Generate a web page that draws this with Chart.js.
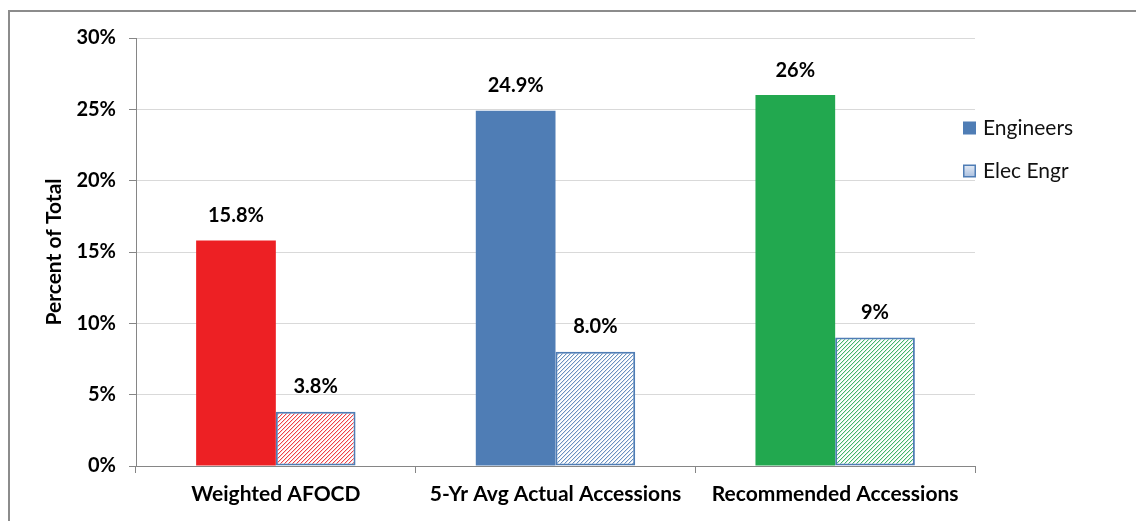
<!DOCTYPE html>
<html>
<head>
  <meta charset="UTF-8">
  <title>Percent of Total - Engineers vs Elec Engr</title>
  <script src="https://cdn.jsdelivr.net/npm/chart.js"></script>
  <style>
    html, body { margin: 0; padding: 0; background: #fff; }
    #wrap { position: relative; width: 1136px; height: 521px; overflow: hidden; }
    #frame {
      position: absolute; left: 8px; top: 10px; right: -4px; bottom: -4px;
      border-left: 2px solid #8c8c8c; border-top: 2px solid #8c8c8c;
    }
    #chart { position: absolute; left: 0; top: 0; }
  </style>
</head>
<body>
<div id="wrap">
  <div id="frame"></div>
  <canvas id="chart" width="1136" height="521"></canvas>
</div>
<script>
var categories = ['Weighted AFOCD', '5-Yr Avg Actual Accessions', 'Recommended Accessions'];
var engineers = [15.8, 24.9, 26];
var elecEngr = [3.8, 8.0, 9];
var decimals = [1, 1, 0];          // how each category's values are printed
var yTicks = [0, 5, 10, 15, 20, 25, 30];

var barColors = ['#ed2024', '#4f7db5', '#22a84f'];
var edgeBlue = '#4f7db5';
var fontName = 'Lato, "Open Sans", sans-serif';

// 4x4 tile: one upward diagonal in the colour, a faint one beside it
function hatch(color) {
  var c = document.createElement('canvas');
  c.width = 4; c.height = 4;
  var g = c.getContext('2d');
  g.fillStyle = '#fff';
  g.fillRect(0, 0, 4, 4);
  g.fillStyle = color;
  for (var x = 0; x < 4; x++) {
    for (var y = 0; y < 4; y++) {
      var k = (x + y) % 4;
      if (k === 3) {
        g.globalAlpha = 0.85;
        g.fillRect(x, y, 1, 1);
      } else if (k === 0) {
        g.globalAlpha = 0.2;
        g.fillRect(x, y, 1, 1);
      }
    }
  }
  return g.createPattern(c, 'repeat');
}

var valueLabels = {
  id: 'valueLabels',
  afterDatasetsDraw: function (chart) {
    var ctx = chart.ctx;
    ctx.save();
    ctx.font = 'bold 20px ' + fontName;
    ctx.fillStyle = '#000';
    ctx.textAlign = 'center';
    ctx.textBaseline = 'middle';
    chart.data.datasets.forEach(function (ds, di) {
      chart.getDatasetMeta(di).data.forEach(function (bar, i) {
        var txt = ds.data[i].toFixed(decimals[i]) + '%';
        ctx.fillText(txt, bar.x, bar.y - 25);
      });
    });
    ctx.restore();
  }
};

var sideLegend = {
  id: 'sideLegend',
  afterDraw: function (chart) {
    var ctx = chart.ctx;
    var x = chart.chartArea.right - 12;
    var rows = [128, 171];
    ctx.save();
    ctx.font = '21px ' + fontName;
    ctx.textBaseline = 'middle';
    ctx.textAlign = 'left';
    // Engineers: solid square
    ctx.fillStyle = edgeBlue;
    ctx.fillRect(x, rows[0] - 6.5, 13, 13);
    // Elec Engr: light gradient square with blue edge
    var gr = ctx.createLinearGradient(0, rows[1] - 6, 0, rows[1] + 6);
    gr.addColorStop(0, '#e4ebf5');
    gr.addColorStop(1, '#a9bfdf');
    ctx.fillStyle = gr;
    ctx.fillRect(x + 1, rows[1] - 5.5, 11, 11);
    ctx.strokeStyle = edgeBlue;
    ctx.lineWidth = 1.5;
    ctx.strokeRect(x + 0.75, rows[1] - 5.75, 11.5, 11.5);
    ctx.fillStyle = '#111';
    chart.data.datasets.forEach(function (ds, i) {
      ctx.fillText(ds.label, x + 20, rows[i]);
    });
    ctx.restore();
  }
};

new Chart(document.getElementById('chart'), {
  type: 'bar',
  data: {
    labels: categories,
    datasets: [{
      label: 'Engineers',
      data: engineers,
      backgroundColor: barColors,
      borderWidth: 0
    }, {
      label: 'Elec Engr',
      data: elecEngr,
      backgroundColor: barColors.map(function (c) { return hatch(c); }),
      borderColor: edgeBlue,
      borderWidth: 2,
      borderSkipped: false
    }]
  },
  plugins: [valueLabels, sideLegend],
  options: {
    responsive: false,
    animation: false,
    categoryPercentage: 0.57,
    barPercentage: 1,
    layout: { padding: { left: 0, right: 161, top: 38, bottom: 0 } },
    plugins: {
      legend: { display: false },
      tooltip: { enabled: false }
    },
    scales: {
      x: {
        afterFit: function (s) { s.height = 55; },
        grid: { offset: true, drawOnChartArea: false, tickLength: 7, color: '#868686' },
        border: { color: '#868686', width: 1 },
        ticks: { padding: 9, color: '#000', font: { family: fontName, size: 21, weight: 'bold' } }
      },
      y: {
        min: 0,
        max: 30,
        afterFit: function (s) { s.width = 136; },
        afterBuildTicks: function (s) { s.ticks = yTicks.map(function (v) { return { value: v }; }); },
        grid: { color: '#d9d9d9', tickLength: 7, tickColor: '#868686' },
        border: { color: '#868686', width: 1 },
        ticks: {
          padding: 13,
          color: '#000',
          font: { family: fontName, size: 20, weight: 'bold' },
          callback: function (v) { return v + '%'; }
        },
        title: {
          display: true,
          text: 'Percent of Total',
          color: '#000',
          font: { family: fontName, size: 21, weight: 'bold' },
          padding: { top: 42, bottom: 0 }
        }
      }
    }
  }
});
</script>
</body>
</html>
